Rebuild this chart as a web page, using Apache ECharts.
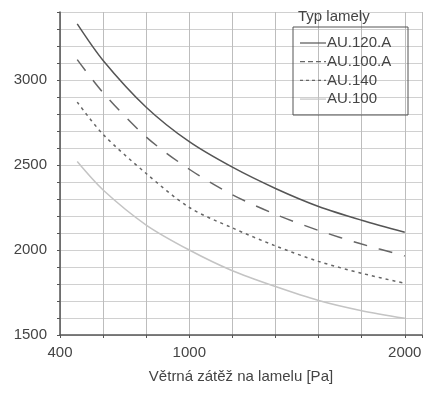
<!DOCTYPE html>
<html>
<head>
<meta charset="utf-8">
<script src="https://cdn.jsdelivr.net/npm/echarts@6/dist/echarts.min.js"></script>
<style>html,body{margin:0;padding:0;background:#fff}#c{width:425px;height:411px}</style>
</head>
<body>
<div id="c"></div>
<script>
const loads = [480, 600, 800, 1000, 1200, 1400, 1600, 1800, 2000];
const au120A = [3330, 3115, 2840, 2637, 2487, 2362, 2256, 2175, 2104];
const au100A = [3120, 2925, 2665, 2475, 2325, 2210, 2115, 2035, 1965];
const au140 = [2870, 2680, 2450, 2250, 2130, 2024, 1933, 1863, 1804];
const au100 = [2520, 2353, 2147, 2000, 1878, 1785, 1703, 1643, 1598];
const xTickLabels = [400, 1000, 2000];
const yTickLabels = [1500, 2000, 2500, 3000];
const seriesNames = ['AU.120.A', 'AU.100.A', 'AU.140', 'AU.100'];
const legendTitle = 'Typ lamely';
const xAxisName = 'Větrná zátěž na lamelu [Pa]';

const pairs = arr => loads.map((x, i) => [x, arr[i]]);
const font = 'Liberation Sans, Arial, sans-serif';
const styles = [
  {color: '#555', type: 'solid', dash: null},
  {color: '#666', type: [14, 12], dash: [5, 3]},
  {color: '#666', type: [3, 4], dash: [3, 3]},
  {color: '#c4c4c4', type: 'solid', dash: null}
];
const chart = echarts.init(document.getElementById('c'), null, {renderer: 'canvas'});
const mk = (i, arr) => ({
  name: seriesNames[i], type: 'line', data: pairs(arr), smooth: 0.3, symbol: 'none',
  lineStyle: {color: styles[i].color, type: styles[i].type, width: 1.5},
  itemStyle: {color: styles[i].color}
});
const legendGraphics = [];
seriesNames.forEach((n, i) => {
  const y = 43 + i * 18.7;
  legendGraphics.push({type: 'line', shape: {x1: 300, y1: y, x2: 326, y2: y},
    style: {stroke: styles[i].color, lineWidth: 1.2, lineDash: styles[i].dash}, z: 10});
  legendGraphics.push({type: 'text', x: 327, y: y,
    style: {text: n, fill: '#444', font: '15px ' + font, textVerticalAlign: 'middle', verticalAlign: 'middle'}, z: 10});
});
chart.setOption({
  animation: false,
  backgroundColor: '#fff',
  grid: {left: 60, right: 0, top: 12, bottom: 76, containLabel: false},
  xAxis: {
    type: 'value', min: 400, max: 2080, interval: 200,
    name: xAxisName, nameLocation: 'middle', nameGap: 34,
    nameTextStyle: {color: '#444', fontSize: 15, fontFamily: font},
    axisLine: {lineStyle: {color: '#555', width: 1.5}},
    axisTick: {show: true, inside: false, length: 3, lineStyle: {color: '#555'}},
    axisLabel: {color: '#444', fontSize: 15, fontFamily: font, margin: 10,
      formatter: v => xTickLabels.indexOf(v) >= 0 ? String(v) : ''},
    splitLine: {show: true, lineStyle: {color: '#bdbdbd', width: 1}}
  },
  yAxis: {
    type: 'value', min: 1500, max: 3400, interval: 100,
    axisLine: {show: true, lineStyle: {color: '#555', width: 1.5}},
    axisTick: {show: true, length: 3, lineStyle: {color: '#555'}},
    axisLabel: {color: '#444', fontSize: 15, fontFamily: font, margin: 13,
      formatter: v => yTickLabels.indexOf(v) >= 0 ? String(v) : ''},
    splitLine: {show: true, lineStyle: {color: '#d0d0d0', width: 1}}
  },
  graphic: [
    {type: 'rect', shape: {x: 293, y: 27, width: 115, height: 88},
      style: {fill: 'transparent', stroke: '#555', lineWidth: 1}, z: 10},
    {type: 'text', x: 298, y: 17, style: {text: legendTitle, fill: '#444',
      font: '15px ' + font, textVerticalAlign: 'middle', verticalAlign: 'middle'}, z: 10}
  ].concat(legendGraphics),
  series: [mk(0, au120A), mk(1, au100A), mk(2, au140), mk(3, au100)]
});
</script>
</body>
</html>
